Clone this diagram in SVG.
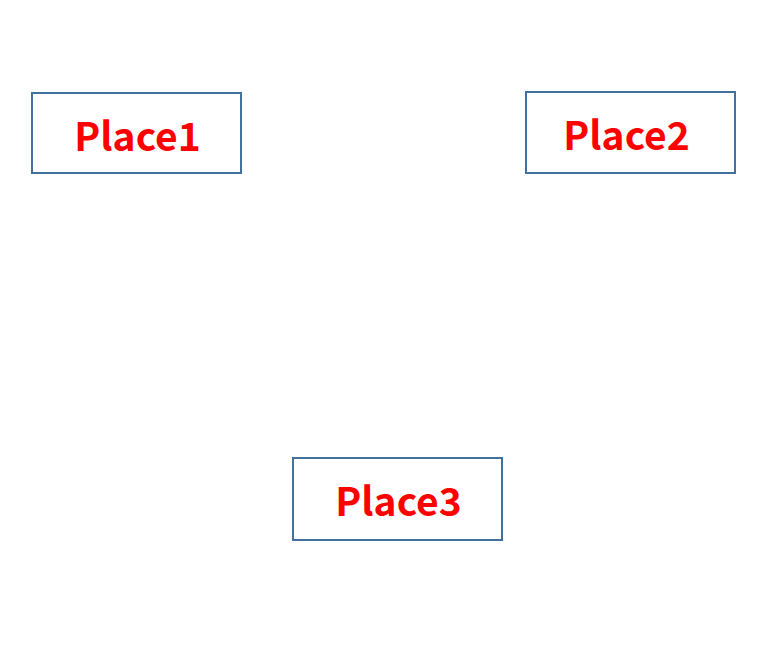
<svg xmlns="http://www.w3.org/2000/svg" width="766" height="670" viewBox="0 0 766 670">
<style>
.box{fill:#fff;stroke:#41719C;stroke-width:2}
.lbl{font-family:"Noto Sans CJK SC","Noto Sans",sans-serif;font-weight:bold;font-size:39px;fill:#FF0000;text-anchor:middle}
</style>
<rect width="766" height="670" fill="#fff"/>
<g id="connectors"></g>
<g id="place1"><rect class="box" x="32" y="93" width="209" height="80"/><text class="lbl" x="137.5" y="151">Place1</text></g>
<g id="place2"><rect class="box" x="526" y="92" width="209" height="81"/><text class="lbl" x="626.5" y="150">Place2</text></g>
<g id="place3"><rect class="box" x="293" y="458" width="209" height="82"/><text class="lbl" x="398.5" y="516">Place3</text></g>
</svg>
